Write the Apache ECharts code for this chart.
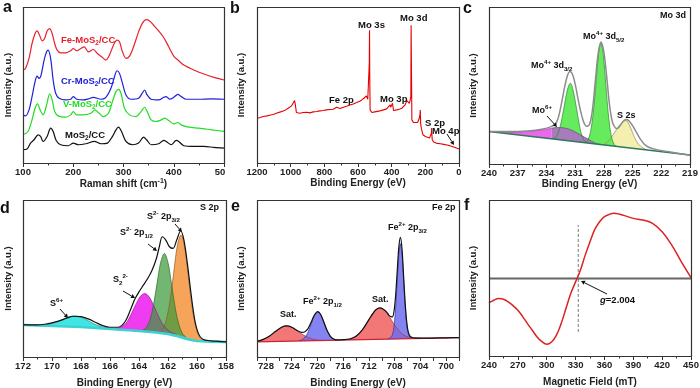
<!DOCTYPE html>
<html><head><meta charset="utf-8">
<script src="https://cdn.jsdelivr.net/npm/echarts@6.0.0/dist/echarts.min.js"></script>
<style>html,body{margin:0;padding:0;background:#fff}#c{width:700px;height:388px}</style>
</head><body><div id="c"></div>
<script>
// ---------- DATA (intensities in arbitrary units) ----------
// a: Raman spectra
const feRaman = [[100,280],[105,285],[112,315],[118,360],[124,390],[128,398],[133,385],[138,368],[143,375],[148,398],[153,405],[158,390],[163,360],[168,340],[175,332],[185,332],[195,338],[200,345],[207,338],[215,345],[222,350],[230,335],[240,342],[248,330],[258,318],[265,310],[272,325],[280,355],[287,370],[292,365],[298,335],[305,315],[312,322],[320,350],[330,395],[338,422],[345,432],[352,428],[360,415],[370,398],[380,378],[390,350],[400,322],[410,308],[420,295],[440,280],[460,268],[480,258],[500,250]];
const crRaman = [[100,145],[105,142],[112,160],[118,200],[124,245],[128,262],[132,255],[136,265],[142,310],[147,335],[150,340],[155,315],[160,250],[165,210],[172,195],[185,190],[195,192],[200,200],[207,192],[220,190],[230,193],[240,198],[255,192],[265,198],[275,225],[282,260],[287,278],[292,270],[298,240],[305,205],[315,192],[330,195],[338,212],[342,220],[347,205],[355,192],[370,190],[380,198],[385,200],[392,192],[400,198],[408,207],[415,200],[425,192],[450,192],[475,193],[500,192]];
const vRaman = [[100,85],[110,95],[118,130],[124,165],[129,178],[134,160],[140,145],[147,175],[153,208],[158,190],[163,155],[170,142],[185,138],[195,145],[200,155],[207,145],[220,145],[235,150],[243,160],[250,152],[260,140],[270,150],[278,185],[285,215],[290,222],[295,210],[302,165],[312,145],[325,140],[335,155],[342,168],[348,152],[355,130],[365,125],[375,130],[382,135],[390,128],[400,118],[408,122],[415,115],[430,108],[450,105],[475,100],[500,95]];
const moRaman = [[100,40],[108,42],[115,60],[122,70],[130,85],[135,80],[140,65],[148,80],[155,105],[160,95],[166,68],[175,55],[190,52],[200,60],[210,55],[225,58],[242,65],[255,58],[268,60],[278,80],[285,100],[290,108],[296,95],[305,65],[318,55],[330,60],[340,78],[346,70],[355,55],[370,58],[380,68],[385,65],[395,55],[405,68],[410,65],[420,52],[440,50],[460,50],[480,47],[500,45]];
// b: XPS survey
const survey = [[1200,135],[1180,137],[1164,140],[1140,142],[1124,144],[1100,147],[1085,150],[1060,154],[1045,157],[1030,160],[1015,165],[995,172],[985,178],[977,188],[972,175],[966,152],[946,150],[926,152],[906,153],[886,151],[866,154],[846,155],[826,157],[806,158],[787,160],[767,161],[747,162],[727,168],[717,163],[707,164],[697,167],[687,168],[668,171],[648,175],[628,178],[608,182],[590,186],[578,190],[565,195],[558,198],[550,202],[542,192],[536,194],[533,300],[531.5,400],[530,250],[528,160],[518,152],[500,154],[489,155],[470,157],[449,160],[430,163],[419,165],[409,175],[406,168],[403,165],[398,172],[395,180],[391,165],[389,158],[369,160],[355,162],[340,165],[320,175],[310,188],[302,185],[295,180],[290,190],[286,200],[284.5,415],[282.5,290],[280,130],[270,122],[260,120],[246,122],[236,135],[232,145],[230,160],[228,120],[224,105],[214,85],[200,80],[190,78],[175,75],[167,70],[164,90],[163,105],[161,85],[159,70],[150,63],[147,60],[130,59],[111,58],[90,56],[71,54],[50,51],[32,48],[15,45],[0,42]];
// c: Mo 3d
const cBaseline = [[240,97],[219,27]];
const cMagenta = [[240,97],[239,94.5],[238,94],[237,95.5],[236,97.5],[235,100],[234.2,103],[233.45,107]];
const cPurple = [[233.45,107],[233,109],[232.5,109],[232,107],[231.5,103],[231,96],[230.5,88],[230,80],[229.5,72],[229,64],[228.5,59],[228,57]];
const cMo4a = [[233.6,76],[233.2,77],[232.9,85],[232.6,108],[232.3,148],[232,195],[231.75,228],[231.5,242],[231.25,225],[231,190],[230.7,140],[230.4,95],[230.1,72],[229.8,64]];
const cMo4b = [[230,64],[229.7,70],[229.4,95],[229.1,155],[228.8,250],[228.55,330],[228.3,362],[228.05,325],[227.8,240],[227.5,140],[227.2,80],[226.9,58],[226.6,52]];
const cS2s = [[228,58],[227.6,66],[227.2,80],[226.8,98],[226.4,115],[226,126],[225.7,130],[225.5,125],[225.2,108],[224.8,80],[224.4,60],[223.9,48],[223.4,42]];
const cEnvelope = [[240,97],[238,97],[236,99],[234.5,104],[233.5,112],[233,122],[232.7,145],[232.4,185],[232.1,230],[231.8,265],[231.55,277],[231.3,270],[231,240],[230.7,195],[230.4,155],[230.1,125],[229.8,113],[229.5,118],[229.2,160],[228.9,245],[228.6,330],[228.3,365],[228,335],[227.7,260],[227.4,175],[227.1,125],[226.8,108],[226.6,106],[226.3,115],[226,127],[225.7,133],[225.4,130],[225,115],[224.6,95],[224.2,75],[223.8,60],[223.3,50],[222.5,43],[221.5,38],[220,31],[219,27]];
// d: S 2p
const dBaseline = [[172,96],[170,93],[168,90],[166,84],[164,78],[163,74],[162,69],[161.5,64],[161,58],[160.5,52],[160,48],[159,46],[158,45]];
const dS6 = [[170.8,95],[170.2,98],[169.7,104],[169.2,114],[168.8,121],[168.4,122.5],[168,119],[167.6,111],[167.1,99],[166.6,91],[166,85]];
const dS22 = [[165.8,84],[165.3,89],[164.9,101],[164.5,132],[164.2,159],[163.9,182],[163.6,190],[163.3,180],[163,155],[162.7,126],[162.3,94],[161.9,77],[161.4,67]];
const dS2p12 = [[163.75,80],[163.5,88],[163.25,110],[163,156],[162.75,222],[162.5,284],[162.25,310],[162,282],[161.75,216],[161.5,146],[161.25,97],[161,70],[160.75,59]];
const dS2p32 = [[162.6,75],[162.35,85],[162.1,114],[161.85,170],[161.6,254],[161.35,334],[161.1,365],[160.85,328],[160.6,242],[160.35,154],[160.1,93],[159.85,62],[159.6,50]];
const dEnvelope = [[172,97],[171,96],[170.5,98],[170,102],[169.5,108],[169,116],[168.5,122],[168,121],[167.5,114],[167,104],[166.5,94],[166,89],[165.5,89],[165.2,94],[164.9,110],[164.6,140],[164.3,172],[164,195],[163.7,215],[163.4,235],[163.1,260],[162.8,295],[162.6,330],[162.4,360],[162.15,350],[161.9,330],[161.65,325],[161.4,350],[161.13,378],[160.9,350],[160.65,275],[160.4,185],[160.15,110],[159.9,70],[159.6,53],[159,48],[158.5,47],[158,45]];
// e: Fe 2p
const eBaseline = [[729.4,45],[698,58]];
const eSat1 = [[729.4,47.5],[728.5,52],[727.6,61],[726.7,73],[725.7,87.5],[724.8,93],[723.9,88],[722.9,75],[721.9,62.5],[721,55],[720.1,51],[719.2,49.5]];
const eFe12 = [[722.95,48.6],[722.45,51.3],[721.95,59],[721.45,75],[720.95,100.5],[720.45,124.7],[719.95,135],[719.45,125],[718.95,101],[718.45,76.5],[717.95,60],[717.45,53.4],[716.95,51]];
const eSat2 = [[715.7,51.6],[714.8,55],[713.9,64],[713,82],[712.1,109],[711.2,135.5],[710.3,147],[709.4,136],[708.5,110.6],[707.6,84.5],[706.7,67],[705.8,59],[704.9,56]];
const eFe32 = [[709.1,54.5],[708.85,55.5],[708.6,60],[708.35,66],[708.1,92],[707.85,147],[707.6,227],[707.35,306],[707.1,339],[706.85,306],[706.6,227],[706.35,147],[706.1,93],[705.85,67],[705.6,60],[705.35,57],[705.1,55.5]];
const eEnvelope = [[729.4,47],[728.5,52],[727.5,62],[726.5,77],[725.5,90],[724.8,93],[724,89],[723,78],[722.5,74],[722,75],[721.5,84],[721,103],[720.5,125],[719.95,136],[719.5,127],[719,104],[718.5,79],[718,62],[717.5,54],[717,51.5],[716,52],[715,54],[714,62],[713,82],[712,112],[711,140],[710.3,147],[709.6,141],[709.1,131],[708.85,124],[708.6,121],[708.35,120],[708.1,137],[707.85,184],[707.6,258],[707.35,330],[707.1,358],[706.85,321],[706.6,239],[706.35,156],[706.1,100],[705.85,72],[705.6,62],[705.35,59],[705,57],[703,56.5],[700,57.5],[698,58]];
// f: EPR
const eprSignal = [[240,159],[245,167],[250,172],[255,170],[260,162],[265,151],[270,137],[275,118],[280,97],[285,77],[290,57],[295,43],[300,35],[305,42],[310,62],[315,97],[320,142],[325,187],[330,222],[335,257],[340,302],[345,342],[350,379],[355,402],[360,417],[365,424],[370,427],[375,425],[380,421],[390,412],[400,407],[410,397],[420,372],[430,332],[440,282],[450,235]];
const eprZero = [[240,232],[450,232]];
const gLine = [[332.8,72],[332.8,392]];
// tick labels
const ticksA = [100,200,300,400,500];
const ticksB = [1200,1000,800,600,400,200,0];
const ticksC = [240,237,234,231,228,225,222,219];
const ticksD = [172,170,168,166,164,162,160,158];
const ticksE = [728,724,720,716,712,708,704,700];
const ticksF = [240,270,300,330,360,390,420,450];

// ---------- LAYOUT ----------
const FONT = 'Liberation Sans, Arial, sans-serif';
const grids = [
  {left:23, top:7, width:201, height:156},
  {left:257, top:7, width:202, height:156},
  {left:489, top:7, width:201, height:157},
  {left:23, top:200, width:203, height:157},
  {left:257, top:200, width:202, height:157},
  {left:489, top:200, width:202, height:156}
];
const xCfg = [
  {min:100, max:500, interval:100, ticks:ticksA, inverse:false, name:'{b|Raman shift (cm}{sup|-1}{b|)}', gap:14},
  {min:0, max:1200, interval:200, ticks:ticksB, inverse:true, name:'{b|Binding Energy (eV)}', gap:14},
  {min:219, max:240, interval:3, ticks:ticksC, inverse:true, name:'{b|Binding Energy (eV)}', gap:14},
  {min:158, max:172, interval:2, ticks:ticksD, inverse:true, name:'{b|Binding Energy (eV)}', gap:20.5},
  {min:698, max:729.4, interval:2, ticks:ticksE, inverse:true, name:'{b|Binding Energy (eV)}', gap:20.5, noMinor:true},
  {min:240, max:450, interval:30, ticks:ticksF, inverse:false, name:'{b|Magnetic Field (mT)}', gap:20.5}
];
const yMax = [470,470,470,470,470,467];
const yGap = [10,11,11,10,11,11];

const nameRich = {
  b:{fontFamily:FONT, fontWeight:'bold', fontSize:10, color:'#222', lineHeight:12},
  sup:{fontFamily:FONT, fontWeight:'bold', fontSize:7, color:'#222', lineHeight:7, verticalAlign:'top'}
};

const xAxis = xCfg.map((c,i)=>({
  type:'value', gridIndex:i, min:c.min, max:c.max, interval:c.interval, inverse:c.inverse,
  axisLine:{show:false}, splitLine:{show:false},
  axisTick:{show:true, inside:false, length:4, lineStyle:{color:'#333', width:1}},
  minorTick:{show:!c.noMinor, splitNumber:2, length:2.5, lineStyle:{color:'#333', width:1}},
  axisLabel:{show:true, margin:4, fontFamily:FONT, fontWeight:'bold', fontSize:9.5, color:'#222',
    customValues:c.ticks,
    formatter:(v)=>{
      if (c.ticks.indexOf(v) < 0) return '';
      if (i===0 && v===500) return '{r|50}';
      return String(v);
    },
    rich:{r:{fontFamily:FONT, fontWeight:'bold', fontSize:9.5, color:'#222', padding:[0,8,0,0]}}
  },
  name:c.name, nameLocation:'middle', nameGap:c.gap, nameTextStyle:{rich:nameRich}
}));
const yAxis = yMax.map((m,i)=>({
  type:'value', gridIndex:i, min:0, max:m,
  axisLine:{show:false}, axisTick:{show:false}, axisLabel:{show:false}, splitLine:{show:false},
  name:'Intensity (a.u.)', nameLocation:'middle', nameGap:yGap[i],
  nameTextStyle:{fontFamily:FONT, fontWeight:'bold', fontSize:9.5, color:'#222'}
}));

// ---------- SERIES ----------
const series = [];
function add(gi, data, o){
  series.push(Object.assign({type:'line', xAxisIndex:gi, yAxisIndex:gi, data:data, symbol:'none', showSymbol:false,
    silent:true, animation:false, z:2, lineStyle:{width:1.2, color:'#000'}}, o));
}
function comp(gi, data, fill, op, edge, z){
  add(gi, data, {smooth:0.35, z:z||2, areaStyle:{color:fill, opacity:op}, lineStyle:{color:edge, width:0.7}});
}
function base(gi, data, color, w){
  add(gi, data, {z:3, areaStyle:{color:'#ffffff', opacity:1}, lineStyle:{color:color, width:w}});
}
// a
add(0, feRaman, {smooth:0.3, lineStyle:{color:'#e8202a', width:1.2}});
add(0, crRaman, {smooth:0.3, lineStyle:{color:'#2020d8', width:1.2}});
add(0, vRaman, {smooth:0.3, lineStyle:{color:'#22dd22', width:1.2}});
add(0, moRaman, {smooth:0.3, lineStyle:{color:'#111111', width:1.2}});
// b
add(1, survey, {lineStyle:{color:'#e60000', width:1.1}});
// c
comp(2, cS2s, '#f3efae', 1, '#8f8a50');
comp(2, cMo4a, '#66ea5e', 1, '#2a8a2a');
comp(2, cMo4b, '#66ea5e', 1, '#2a8a2a');
comp(2, cMagenta, '#ee66ee', 1, '#9a4a9a');
comp(2, cPurple, '#a87cba', 1, '#6a4a7a');
base(2, cBaseline, '#2b7a5a', 1.5);
add(2, cEnvelope, {smooth:0.3, z:4, lineStyle:{color:'#8c8c8c', width:1.5}});
// d
comp(3, dS6, '#40e6e6', 1, '#1a8a8a');
comp(3, dS2p32, '#f6a45a', 1, '#8a5a20');
comp(3, dS22, '#f03cf0', 1, '#8a208a');
comp(3, dS2p12, '#3c9a3c', 0.72, '#2a6a2a');
base(3, dBaseline, '#3cd2d2', 2.6);
add(3, dEnvelope, {smooth:0.3, z:4, lineStyle:{color:'#111', width:1.2}});
// e
comp(4, eSat1, '#f06060', 0.85, '#b03030');
comp(4, eFe12, '#6d6df0', 0.85, '#3030a0');
comp(4, eSat2, '#f06060', 0.85, '#b03030');
comp(4, eFe32, '#6d6df0', 0.85, '#3030a0');
base(4, eBaseline, '#d0203a', 1.3);
add(4, eEnvelope, {smooth:0.3, z:4, lineStyle:{color:'#111', width:1.2}});
// f
add(5, eprZero, {lineStyle:{color:'#666', width:2}});
add(5, gLine, {lineStyle:{color:'#555', width:0.8, type:[3,2]}});
add(5, eprSignal, {smooth:0.4, z:3, lineStyle:{color:'#dd2222', width:1.5}});

// ---------- ANNOTATIONS ----------
function rich(size, color){
  const s = {fontFamily:FONT, fontWeight:'bold', fill:color};
  return {
    b:Object.assign({fontSize:size, lineHeight:13}, s),
    i:Object.assign({fontSize:size, lineHeight:13, fontStyle:'italic'}, s),
    sub:Object.assign({fontSize:size*0.68, lineHeight:6, verticalAlign:'bottom'}, s),
    sup:Object.assign({fontSize:size*0.68, lineHeight:6, verticalAlign:'top'}, s)
  };
}
const labels = [
  ['{b|Fe-MoS}{sub|2}{b|/CC}', 61, 40, '#e8202a', 9.5],
  ['{b|Cr-MoS}{sub|2}{b|/CC}', 61, 81, '#2020d8', 9.5],
  ['{b|V-MoS}{sub|2}{b|/CC}', 63, 104, '#22dd22', 9.5],
  ['{b|MoS}{sub|2}{b|/CC}', 65, 135, '#111', 9.5],
  ['{b|Mo 3s}', 358, 25], ['{b|Mo 3d}', 400, 18], ['{b|Fe 2p}', 329, 100], ['{b|Mo 3p}', 380, 99],
  ['{b|S 2p}', 425, 123], ['{b|Mo 4p}', 432, 131],
  ['{b|Mo 3d}', 660, 16, '#111', 9], ['{b|Mo}{sup|4+}{b| 3d}{sub|5/2}', 583, 37, '#111', 9],
  ['{b|Mo}{sup|4+}{b| 3d}{sub|3/2}', 531, 66, '#111', 9], ['{b|Mo}{sup|6+}', 532, 111, '#111', 9], ['{b|S 2s}', 617, 116, '#111', 9],
  ['{b|S 2p}', 200, 208, '#111', 9], ['{b|S}{sup|2-}{b| 2p}{sub|3/2}', 147, 217, '#111', 9],
  ['{b|S}{sup|2-}{b| 2p}{sub|1/2}', 120, 233, '#111', 9], ['{b|S}{sub|2}{sup|2-}', 113, 280, '#111', 9], ['{b|S}{sup|6+}', 50, 304, '#111', 9],
  ['{b|Fe 2p}', 432, 208, '#111', 9], ['{b|Fe}{sup|2+}{b| 2p}{sub|3/2}', 388, 228, '#111', 9],
  ['{b|Fe}{sup|2+}{b| 2p}{sub|1/2}', 303, 302, '#111', 9], ['{b|Sat.}', 280, 315, '#111', 9], ['{b|Sat.}', 372, 300, '#111', 9],
  ['{i|g}{b|=2.004}', 600, 300, '#111', 9.5]
];
const letters = [['a',3,8],['b',230,9],['c',463,9],['d',0,209],['e',231,207],['f',464,206]];
const arrows = [[447,134,454,145],[547,116,557,127],[175,224,182,232],[148,244,157,251],[123,291,135,298],[60,309,68,318],[607,294,581,281]];

const graphic = [];
grids.forEach(g=>graphic.push({type:'rect', z:100, silent:true,
  shape:{x:g.left+0.5, y:g.top+0.5, width:g.width, height:g.height},
  style:{fill:'none', stroke:'#333', lineWidth:1.2}}));
labels.forEach(l=>{
  const col = l[3]||'#111', sz = l[4]||9.5;
  graphic.push({type:'text', z:100, silent:true, x:l[1], y:l[2],
    style:{text:l[0], rich:rich(sz,col), fill:col, font:'bold '+sz+'px '+FONT,
      align:'left', verticalAlign:'middle', textAlign:'left', textVerticalAlign:'middle'}});
});
letters.forEach(l=>graphic.push({type:'text', z:100, silent:true, x:l[1], y:l[2],
  style:{text:l[0], fill:'#111', font:'bold 16px '+FONT, align:'left', verticalAlign:'middle', textAlign:'left', textVerticalAlign:'middle'}}));
arrows.forEach(a=>{
  const [x1,y1,x2,y2] = a, ang = Math.atan2(y2-y1,x2-x1), L=4, W=2.2;
  const bx = x2-L*Math.cos(ang), by = y2-L*Math.sin(ang), px = -Math.sin(ang)*W, py = Math.cos(ang)*W;
  graphic.push({type:'line', z:100, silent:true, shape:{x1:x1,y1:y1,x2:bx,y2:by}, style:{stroke:'#111', lineWidth:1}});
  graphic.push({type:'polygon', z:100, silent:true, shape:{points:[[x2,y2],[bx+px,by+py],[bx-px,by-py]]}, style:{fill:'#111'}});
});

const chart = echarts.init(document.getElementById('c'), null, {renderer:'canvas'});
chart.setOption({
  animation:false, backgroundColor:'#fff',
  grid: grids.map(g=>Object.assign({outerBoundsMode:'none', containLabel:false}, g)),
  xAxis:xAxis, yAxis:yAxis, series:series, graphic:graphic
});
</script></body></html>
